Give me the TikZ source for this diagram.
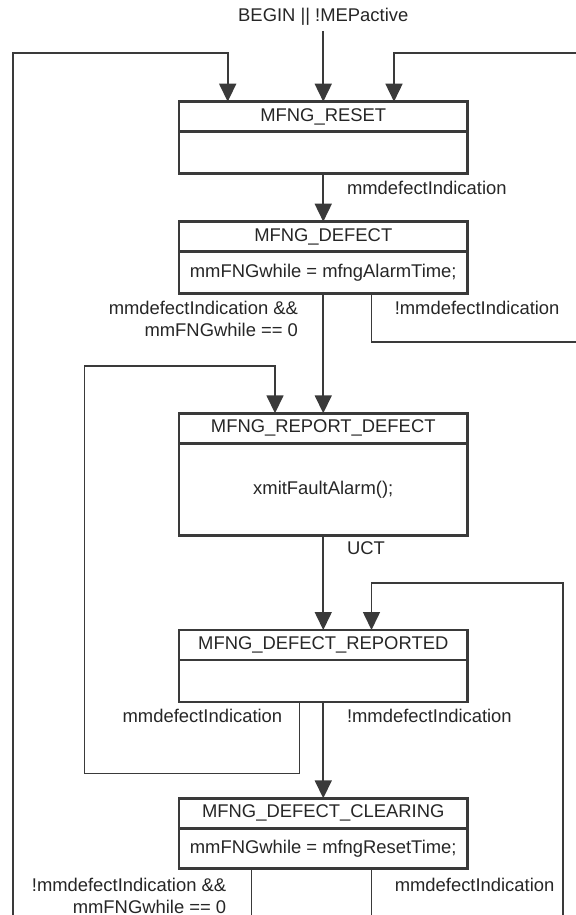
\documentclass[tikz,border=0pt]{standalone}
\usepackage{fontspec}
\setmainfont{Liberation Sans}
\usetikzlibrary{arrows.meta,positioning,calc}
\definecolor{fsmLine}{HTML}{3A3A3A}
\definecolor{fsmText}{HTML}{262626}
\tikzset{
    % state boxes: a name row and an action row
    statehead/.style={rectangle,draw=fsmLine,line width=1.25pt,outer sep=0pt,inner sep=0pt,minimum width=144.25pt,minimum height=15pt,text=fsmText},
    statebody/.style={statehead,minimum height=21pt,align=center},
    % transitions
    flow/.style={-{Triangle[length=9pt,width=8.5pt]},line width=0.8pt,draw=fsmLine},
    wire/.style={line width=0.8pt,draw=fsmLine},
    cond/.style={inner sep=0pt,text=fsmText,align=right}
}

\begin{document}
\begin{tikzpicture}[x=0.5pt,y=-0.5pt,font=\fontsize{9.2}{10.9}\selectfont]
  \useasboundingbox (0,0) rectangle (576,915);

  % States, top to bottom
  \node[statehead] at (323.25,116.7) (reseth) {MFNG\_RESET};
  \node[statebody,below=0pt of reseth] (resetb) {};
  \node[statehead] at (323.25,236.7) (defecth) {MFNG\_DEFECT};
  \node[statebody,below=0pt of defecth] (defectb) {mmFNGwhile = mfngAlarmTime;};
  \node[statehead] at (323.25,428.3) (reporth) {MFNG\_REPORT\_DEFECT};
  \node[statebody,below=0pt of reporth,minimum height=46pt] (reportb) {xmitFaultAlarm();};
  \node[statehead] at (323.25,645) (reportedh) {MFNG\_DEFECT\_REPORTED};
  \node[statebody,below=0pt of reportedh] (reportedb) {};
  \node[statehead] at (323.25,813.3) (clearingh) {MFNG\_DEFECT\_CLEARING};
  \node[statebody,below=0pt of clearingh,minimum height=20pt] (clearingb) {mmFNGwhile = mfngResetTime;};

  % Entry
  \node[cond,inner sep=2.6pt] at (323.25,16.7) (begin) {BEGIN || !MEPactive};
  \draw[flow] (begin) -- (reseth);

  % Loose ends and bends of the long loops
  \coordinate (outl) at (12.8,915);
  \coordinate (resetin1) at (227.7,53.3);
  \coordinate (outr) at (576,53.3);
  \coordinate (resetin2) at (394,53.3);
  \coordinate (dturn) at (371.5,341.7);
  \coordinate (outd) at (576,341.7);
  \coordinate (looptap) at (299.6,773.3);
  \coordinate (loopdown) at (84.3,773.3);
  \coordinate (loopup) at (84.3,365.7);
  \coordinate (loopin) at (275,365.7);
  \coordinate (outr2) at (563,915);
  \coordinate (reportedin) at (371.5,582.7);
  \coordinate (clrout1) at (251.6,915);
  \coordinate (clrout2) at (371.5,915);

  % Back to reset
  \draw[flow] (outl) |- (resetin1) -- (resetin1 |- reseth.north);
  \draw[flow] (outr) -- (resetin2) -- (resetin2 |- reseth.north);

  % Transitions
  \draw[flow] (resetb) -- node[cond,pos=0.3,anchor=west,xshift=11.5pt]{mmdefectIndication} (defecth);
  \draw[flow] (defectb) -- node[cond,pos=0.21,anchor=east,xshift=-12.25pt]{mmdefectIndication \&\&\\mmFNGwhile == 0} (reporth);
  \draw[wire] (dturn |- defectb.south) -- node[cond,pos=0.3,anchor=west,xshift=11.25pt]{!mmdefectIndication} (dturn) -- (outd);
  \draw[flow] (reportb) -- node[cond,pos=0.134,anchor=west,xshift=11.5pt]{UCT} (reportedh);
  \draw[flow] (outr2) |- (reportedin) -- (reportedin |- reportedh.north);
  \draw[flow] (looptap |- reportedb.south) -- node[cond,pos=0.2,anchor=east,xshift=-8.3pt]{mmdefectIndication} (looptap) -- (loopdown) -- (loopup) -- (loopin) -- (loopin |- reporth.north);
  \draw[flow] (reportedb) -- node[cond,pos=0.145,anchor=west,xshift=11.5pt]{!mmdefectIndication} (clearingh);
  \draw[wire] (clrout1 |- clearingb.south) -- node[cond,pos=0.59,anchor=east,xshift=-12.3pt]{!mmdefectIndication \&\&\\mmFNGwhile == 0} (clrout1);
  \draw[wire] (clrout2 |- clearingb.south) -- node[cond,pos=0.36,anchor=west,xshift=11.25pt]{mmdefectIndication} (clrout2);
\end{tikzpicture}
\end{document}
